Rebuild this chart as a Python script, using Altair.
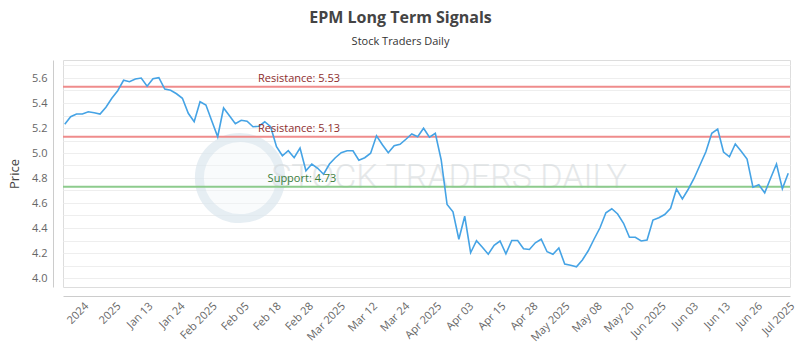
import altair as alt
import pandas as pd

# ---- data ----
prices = [
    5.230, 5.290, 5.312, 5.312, 5.330, 5.322, 5.312, 5.366, 5.438, 5.498,
    5.582, 5.570, 5.592, 5.600, 5.534, 5.594, 5.602, 5.512, 5.502, 5.474,
    5.438, 5.318, 5.250, 5.410, 5.384, 5.256, 5.130, 5.360, 5.298, 5.234,
    5.262, 5.254, 5.210, 5.214, 5.250, 5.210, 5.050, 4.978, 5.018, 4.962,
    5.040, 4.858, 4.912, 4.878, 4.830, 4.912, 4.962, 5.002, 5.018, 5.018,
    4.942, 4.962, 4.998, 5.138, 5.066, 5.002, 5.058, 5.070, 5.110, 5.152,
    5.130, 5.198, 5.126, 5.158, 4.944, 4.588, 4.530, 4.310, 4.494, 4.202,
    4.298, 4.246, 4.190, 4.262, 4.296, 4.194, 4.300, 4.300, 4.234, 4.228,
    4.282, 4.310, 4.210, 4.190, 4.240, 4.112, 4.102, 4.090, 4.144, 4.218,
    4.312, 4.402, 4.522, 4.554, 4.512, 4.438, 4.326, 4.326, 4.296, 4.304,
    4.464, 4.482, 4.508, 4.558, 4.712, 4.632, 4.710, 4.798, 4.904, 5.010,
    5.158, 5.192, 5.008, 4.970, 5.072, 5.014, 4.952, 4.726, 4.746, 4.682,
    4.798, 4.912, 4.714, 4.838,
]

tick_labels = [
    "2024", "2025", "Jan 13", "Jan 24", "Feb 2025", "Feb 05", "Feb 18",
    "Feb 28", "Mar 2025", "Mar 12", "Mar 24", "Apr 2025", "Apr 03", "Apr 15",
    "Apr 28", "May 2025", "May 08", "May 20", "Jun 2025", "Jun 03", "Jun 13",
    "Jun 26", "Jul 2025",
]

resistance_levels = [5.53, 5.13]
support_levels = [4.73]

y_ticks = [4.0, 4.1, 4.2, 4.3, 4.4, 4.5, 4.6, 4.7, 4.8, 4.9, 5.0,
           5.1, 5.2, 5.3, 5.4, 5.5, 5.6, 5.7]

title_text = "EPM Long Term Signals"
subtitle_text = "Stock Traders Daily"
watermark_text = "STOCK TRADERS DAILY"

# ---- derived tables ----
n = len(prices)
df = pd.DataFrame({"i": list(range(n)), "price": prices})

first_tick = 3
last_tick = n - 1
step = (last_tick - first_tick) / (len(tick_labels) - 1)
tick_pos = [first_tick + k * step for k in range(len(tick_labels))]
label_array = "[" + ",".join("'" + t + "'" for t in tick_labels) + "]"
x_label_expr = f"{label_array}[round((datum.value - {first_tick}) / {step})]"

res_df = pd.DataFrame({
    "level": resistance_levels,
    "label": [f"Resistance: {v:.2f}" for v in resistance_levels],
})
sup_df = pd.DataFrame({
    "level": support_levels,
    "label": [f"Support: {v:.2f}" for v in support_levels],
})

FONT = "Open Sans"

x_scale = alt.Scale(domain=[-0.3, n - 1 + 0.3], nice=False, zero=False)
y_scale = alt.Scale(domain=[3.928, 5.744], nice=False, zero=False)

x_enc = alt.X(
    "i:Q", scale=x_scale, title=None,
    axis=alt.Axis(
        values=tick_pos, labelExpr=x_label_expr, labelAngle=-45,
        labelAlign="right", labelBaseline="top", labelPadding=4,
        ticks=False, grid=False, offset=9, domainColor="#cccccc",
        labelColor="#666666", labelFontSize=11, labelFont=FONT,
        labelOverlap=False,
    ),
)
y_axis = alt.Axis(
    values=y_ticks,
    labelExpr="(round(datum.value * 10) % 2 == 0) ? format(datum.value, '.1f') : ''",
    labelOverlap=False,
    ticks=False, grid=True, gridColor="#eeeeee", offset=10,
    domainColor="#cccccc", labelColor="#666666", labelFontSize=11,
    labelFont=FONT, labelPadding=6, titleFont=FONT, titleFontSize=13,
    titleFontWeight="normal", titleColor="#444444", titlePadding=10,
)


def y_of(field):
    return alt.Y(field, scale=y_scale, title="Price", axis=y_axis)


watermark_circle = alt.Chart(pd.DataFrame({"w": [0]})).mark_point(
    shape="circle", filled=False, size=6600, strokeWidth=9,
    color="#dce7ef", fill="#f1f6f9", fillOpacity=0.6, opacity=0.7,
).encode(x=alt.value(177), y=alt.value(118))

watermark = alt.Chart(pd.DataFrame({"w": [watermark_text]})).mark_text(
    font="Roboto", fontSize=34, fontWeight=300, color="#d4d9dc",
    opacity=0.6, align="center", baseline="middle",
).encode(x=alt.value(386), y=alt.value(118), text="w:N")

line = alt.Chart(df).mark_line(color="#45a3e5", strokeWidth=1.6).encode(
    x=x_enc, y=y_of("price:Q")
)

res_rule = alt.Chart(res_df).mark_rule(color="#ef8c8c", strokeWidth=2).encode(
    y=y_of("level:Q")
)
sup_rule = alt.Chart(sup_df).mark_rule(color="#8dcb8d", strokeWidth=2).encode(
    y=y_of("level:Q")
)
res_text = alt.Chart(res_df).mark_text(
    color="#8e2d2d", fontSize=11, font=FONT, align="center",
    baseline="bottom", dy=-3,
).encode(x=alt.value(236), y=y_of("level:Q"), text="label:N")
sup_text = alt.Chart(sup_df).mark_text(
    color="#3b7d3b", fontSize=11, font=FONT, align="center",
    baseline="bottom", dy=-3,
).encode(x=alt.value(239), y=y_of("level:Q"), text="label:N")

chart = alt.layer(
    watermark_circle, watermark, res_rule, sup_rule, line, res_text, sup_text
).properties(
    width=727, height=227,
    title=alt.TitleParams(
        text=title_text, subtitle=subtitle_text, anchor="middle", dx=-26,
        font=FONT, fontSize=16, fontWeight="bold", color="#444444",
        subtitleFont=FONT, subtitleFontSize=11, subtitleColor="#333333",
        subtitlePadding=10, offset=13,
    ),
    autosize=alt.AutoSizeParams(type="none"),
    padding={"left": 63, "top": 60, "right": 10, "bottom": 63},
).configure_view(stroke="#888888", strokeWidth=1).configure(
    background="white"
)

chart.save("out.html", embed_options={"renderer": "svg", "actions": False})
